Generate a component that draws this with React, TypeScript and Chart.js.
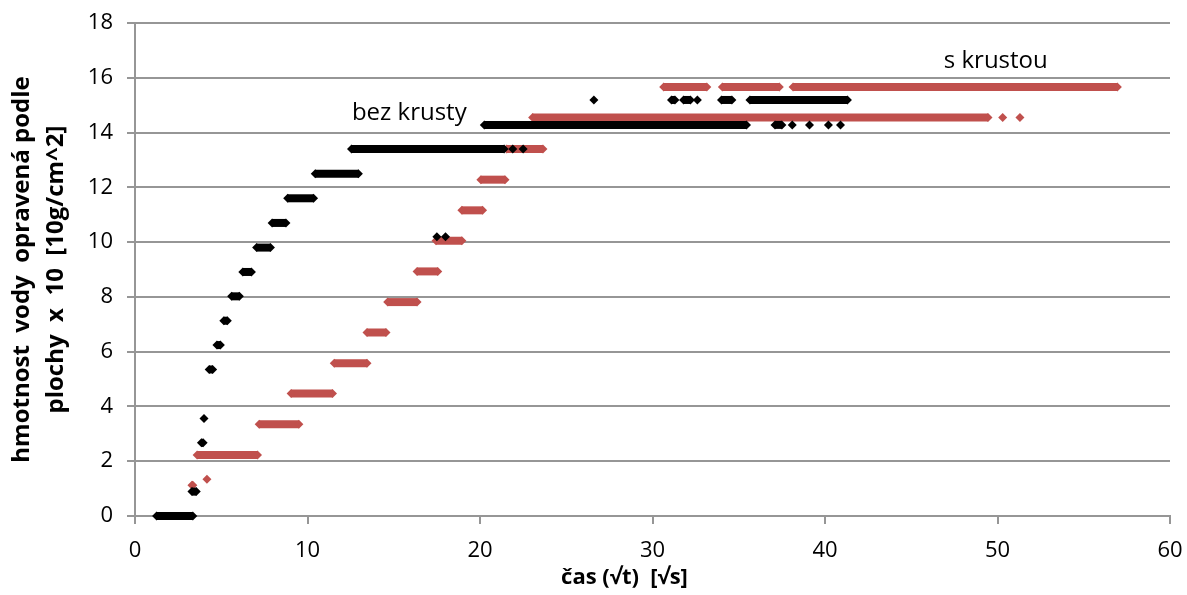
import React, { useEffect, useRef } from 'react';
import { Chart, registerables } from 'chart.js';

Chart.register(...registerables);

const FONT = '"Open Sans", "Noto Sans", sans-serif';

const seriesNames = ['bez krusty', 's krustou'];
const seriesColors = ['#000000', '#C0504D'];

// [y level, x of first mark, x of last mark]
const bezKrustyBands: [number, number, number][] = [
  [0, 1.25, 3.35],
  [0.89, 3.3, 3.55],
  [2.67, 3.85, 3.95],
  [3.56, 4.0, 4.0],
  [5.35, 4.3, 4.5],
  [6.24, 4.75, 4.95],
  [7.13, 5.15, 5.35],
  [8.02, 5.6, 6.05],
  [8.91, 6.25, 6.75],
  [9.8, 7.05, 7.85],
  [10.7, 7.95, 8.75],
  [11.6, 8.85, 10.35],
  [12.5, 10.45, 12.95],
  [13.4, 12.55, 21.4],
  [13.4, 21.9, 21.9],
  [13.4, 22.5, 22.5],
  [10.2, 17.5, 17.5],
  [10.2, 18.0, 18.0],
  [14.28, 20.25, 35.45],
  [14.28, 37.1, 37.5],
  [14.28, 38.1, 38.1],
  [14.28, 39.1, 39.1],
  [14.28, 40.2, 40.2],
  [14.28, 40.9, 40.9],
  [15.19, 26.6, 26.6],
  [15.19, 31.1, 31.3],
  [15.19, 31.8, 32.2],
  [15.19, 32.6, 32.6],
  [15.19, 34.0, 34.6],
  [15.19, 35.65, 41.3],
];

const sKrustouBands: [number, number, number][] = [
  [1.12, 3.3, 3.35],
  [1.34, 4.17, 4.17],
  [2.23, 3.6, 7.1],
  [3.35, 7.2, 9.5],
  [4.47, 9.05, 11.45],
  [5.58, 11.55, 13.45],
  [6.7, 13.45, 14.55],
  [7.81, 14.65, 16.35],
  [8.93, 16.35, 17.55],
  [10.05, 17.45, 18.95],
  [11.16, 18.95, 20.15],
  [12.28, 20.05, 21.45],
  [13.4, 21.55, 23.65],
  [14.55, 23.05, 49.45],
  [14.55, 50.3, 50.3],
  [14.55, 51.3, 51.3],
  [15.66, 30.65, 33.15],
  [15.66, 34.05, 37.35],
  [15.66, 38.15, 56.95],
];

const xMin = 0;
const xMax = 60;
const xStep = 10;
const yMin = 0;
const yMax = 18;
const yStep = 2;

const yTitleLines = ['hmotnost  vody  opravená podle', 'plochy  x  10  [10g/cm^2]'];
const xTitle = 'čas (√t)  [√s]';

const annotations = [
  { text: seriesNames[0], x: 15.9, y: 14.72 },
  { text: seriesNames[1], x: 49.9, y: 16.6 },
];

const GRID = '#969696';

function bandDatasets(bands: [number, number, number][], color: string, order: number, label: string) {
  return bands.map(([y, x0, x1]) => ({
    label,
    data: x0 === x1 ? [{ x: x0, y }] : [{ x: x0, y }, { x: x1, y }],
    showLine: true,
    borderColor: color,
    backgroundColor: color,
    borderWidth: 8,
    borderCapStyle: 'butt' as const,
    pointStyle: 'rectRot' as const,
    pointRadius: 4.5,
    pointHoverRadius: 4.5,
    pointBorderWidth: 0,
    clip: false as const,
    order,
  }));
}

const textPlugin = {
  id: 'chartTexts',
  afterDatasetsDraw(chart: any) {
    const { ctx, scales } = chart;
    const x = scales.x;
    const y = scales.y;
    ctx.save();
    ctx.fillStyle = '#000000';
    ctx.textAlign = 'center';
    ctx.textBaseline = 'middle';
    ctx.font = `24px ${FONT}`;
    annotations.forEach((a) => {
      ctx.fillText(a.text, x.getPixelForValue(a.x), y.getPixelForValue(a.y));
    });
    ctx.font = `bold 22px ${FONT}`;
    const cx = (chart.chartArea.left + chart.chartArea.right) / 2 - 28;
    ctx.fillText(xTitle, cx, chart.chartArea.bottom + 62);
    ctx.restore();
  },
};

export default function App() {
  const canvasRef = useRef<HTMLCanvasElement | null>(null);

  useEffect(() => {
    document.body.style.margin = '0';
    const canvas = canvasRef.current;
    if (!canvas) return;
    const chart = new Chart(canvas, {
      type: 'scatter',
      data: {
        datasets: [
          ...bandDatasets(bezKrustyBands, seriesColors[0], 0, seriesNames[0]),
          ...bandDatasets(sKrustouBands, seriesColors[1], 1, seriesNames[1]),
        ],
      },
      options: {
        responsive: false,
        animation: false,
        events: [],
        layout: { padding: { left: 0, right: 17, top: 23, bottom: 0 } },
        plugins: {
          legend: { display: false },
          tooltip: { enabled: false },
        },
        scales: {
          x: {
            type: 'linear',
            min: xMin,
            max: xMax,
            afterFit: (s: any) => {
              s.height = 79;
              s.paddingLeft = 0;
              s.paddingRight = 0;
            },
            ticks: {
              stepSize: xStep,
              color: '#000000',
              padding: 14,
              maxRotation: 0,
              font: { family: FONT, size: 22 },
            },
            grid: {
              display: true,
              drawOnChartArea: false,
              drawTicks: true,
              tickLength: 8,
              color: GRID,
              lineWidth: 2,
            },
            border: { display: true, color: GRID, width: 2 },
          },
          y: {
            type: 'linear',
            min: yMin,
            max: yMax,
            afterFit: (s: any) => {
              s.width = 135;
              s.paddingTop = 0;
              s.paddingBottom = 0;
            },
            ticks: {
              stepSize: yStep,
              color: '#000000',
              padding: 14,
              font: { family: FONT, size: 22 },
            },
            grid: {
              display: true,
              drawOnChartArea: true,
              drawTicks: true,
              tickLength: 8,
              color: GRID,
              lineWidth: 2,
            },
            border: { display: true, color: GRID, width: 2 },
            title: {
              display: true,
              text: yTitleLines,
              color: '#000000',
              padding: { top: 6, bottom: 0 },
              font: { family: FONT, size: 24, weight: 'bold', lineHeight: 1.38 },
            },
          },
        },
      },
      plugins: [textPlugin],
    });
    return () => chart.destroy();
  }, []);

  return (
    <div style={{ width: 1187, height: 595 }}>
      <canvas ref={canvasRef} width={1187} height={595} style={{ display: 'block', width: 1187, height: 595 }} />
    </div>
  );
}
